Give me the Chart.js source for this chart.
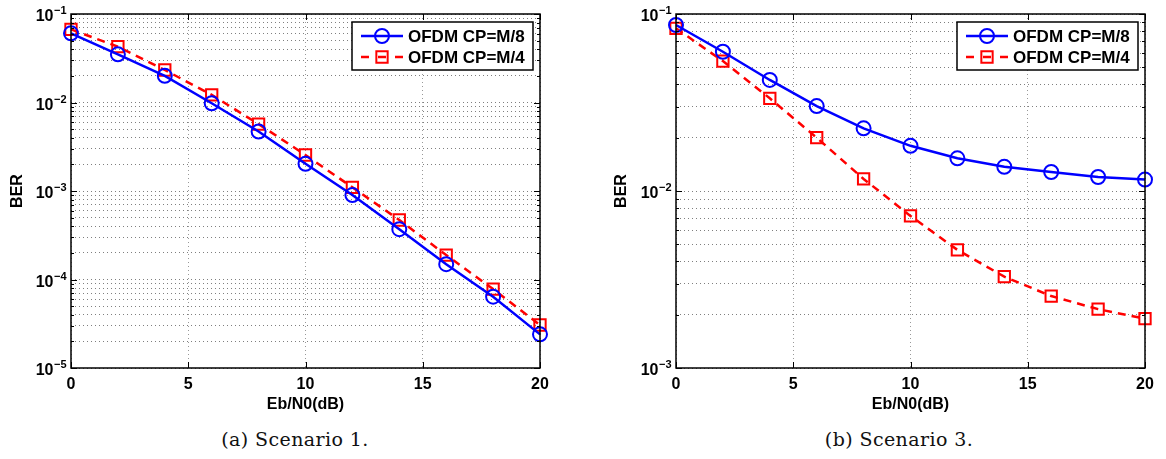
<!DOCTYPE html>
<html>
<head>
<meta charset="utf-8">
<script src="https://cdn.jsdelivr.net/npm/chart.js@4.4.1/dist/chart.umd.min.js"></script>
<style>
  html, body { margin: 0; padding: 0; background: #fff; }
  #wrap { position: relative; width: 1166px; height: 459px; }
  .box { position: absolute; top: 0; }
  .cap {
    position: absolute;
    top: 428px;
    font-family: "DejaVu Serif", serif;
    font-size: 19px;
    letter-spacing: 0.4px;
    color: #111;
    transform: translateX(-50%);
    white-space: nowrap;
  }
</style>
</head>
<body>
<div id="wrap">
  <div class="box" style="left:0"><canvas id="chartScen1" width="580" height="420"></canvas></div>
  <div class="box" style="left:600px"><canvas id="chartScen3" width="566" height="420"></canvas></div>
  <div class="cap" style="left:295px">(a) Scenario 1.</div>
  <div class="cap" style="left:899px">(b) Scenario 3.</div>
</div>
<script>
// data
const ebn0 = [0, 2, 4, 6, 8, 10, 12, 14, 16, 18, 20];
const xTicks = [0, 5, 10, 15, 20];
const legendLabels = ["OFDM CP=M/8", "OFDM CP=M/4"];

const scen1Cp8 = [0.0605, 0.035, 0.02, 0.0098, 0.0047, 0.00203, 0.0009, 0.00037, 0.000149, 0.000064, 0.000024];
const scen1Cp4 = [0.067, 0.0427, 0.0233, 0.0122, 0.0057, 0.00255, 0.0011, 0.00047, 0.000189, 0.000078, 0.0000306];
const scen3Cp8 = [0.0867, 0.0612, 0.0424, 0.0302, 0.0226, 0.018, 0.0153, 0.0137, 0.0128, 0.012, 0.0116];
const scen3Cp4 = [0.083, 0.0542, 0.0334, 0.02, 0.0117, 0.00723, 0.00465, 0.00328, 0.00255, 0.00215, 0.0019];

// y tick decades, and the minor multipliers inside each decade
const scen1Exps = [-5, -4, -3, -2, -1];
const scen3Exps = [-3, -2, -1];
const minorMult = [1, 2, 3, 4, 5, 6, 7, 8, 9];

const FONT = '"Liberation Sans", Arial, sans-serif';

function logTicks(exps) {
  const vals = [];
  for (let i = 0; i < exps.length - 1; i++) {
    minorMult.forEach((m) => vals.push(Number((m * Math.pow(10, exps[i])).toPrecision(6))));
  }
  vals.push(Math.pow(10, exps[exps.length - 1]));
  return vals;
}

function isDecade(v) {
  const l = Math.log10(v);
  return Math.abs(l - Math.round(l)) < 1e-9;
}

// box, inner ticks, 10^n labels and legend drawn matlab-style
const matlabAxes = {
  id: "matlabAxes",
  afterDraw(chart, args, opts) {
    const { ctx, chartArea: a, scales } = chart;
    const ys = scales.y;
    const xs = scales.x;
    ctx.save();

    ctx.strokeStyle = "#000";
    ctx.lineWidth = 1;
    ctx.beginPath();
    ys.ticks.forEach((t) => {
      const y = Math.round(ys.getPixelForValue(t.value)) + 0.5;
      const len = isDecade(t.value) ? 6 : 3;
      ctx.moveTo(a.left, y);
      ctx.lineTo(a.left + len, y);
      ctx.moveTo(a.right, y);
      ctx.lineTo(a.right - len, y);
    });
    xs.ticks.forEach((t) => {
      const x = Math.round(xs.getPixelForValue(t.value)) + 0.5;
      ctx.moveTo(x, a.bottom);
      ctx.lineTo(x, a.bottom - 6);
      ctx.moveTo(x, a.top);
      ctx.lineTo(x, a.top + 6);
    });
    ctx.stroke();

    ctx.lineWidth = 1.5;
    ctx.strokeRect(a.left, a.top, a.right - a.left, a.bottom - a.top);

    // y labels 10^n
    ctx.fillStyle = "#000";
    ctx.textBaseline = "alphabetic";
    ctx.textAlign = "left";
    opts.exps.forEach((e) => {
      const y = ys.getPixelForValue(Math.pow(10, e));
      const sup = "\u2212" + Math.abs(e);
      ctx.font = "bold 11px " + FONT;
      const wSup = ctx.measureText(sup).width;
      ctx.font = "bold 16px " + FONT;
      const wBase = ctx.measureText("10").width;
      const x0 = a.left - 5 - wSup - wBase;
      ctx.fillText("10", x0, y + 7);
      ctx.font = "bold 11px " + FONT;
      ctx.fillText(sup, x0 + wBase + 0.5, y);
    });

    // legend
    const bw = 181, bh = 48;
    const bx = a.right - 7 - bw;
    const by = a.top + 8;
    ctx.fillStyle = "#fff";
    ctx.fillRect(bx, by, bw, bh);
    ctx.strokeStyle = "#000";
    ctx.lineWidth = 1.5;
    ctx.strokeRect(bx, by, bw, bh);
    chart.data.datasets.forEach((ds, i) => {
      const ry = by + 14 + i * 21;
      ctx.strokeStyle = ds.borderColor;
      ctx.lineWidth = ds.borderWidth;
      ctx.setLineDash(ds.borderDash ? [8, 9] : []);
      ctx.beginPath();
      ctx.moveTo(bx + 9, ry);
      ctx.lineTo(bx + 51, ry);
      ctx.stroke();
      ctx.setLineDash([]);
      ctx.fillStyle = "rgba(0,0,0,0)";
      ctx.lineWidth = ds.pointBorderWidth;
      Chart.helpers.drawPoint(ctx, {
        pointStyle: ds.pointStyle,
        radius: ds.pointRadius,
        borderWidth: ds.pointBorderWidth,
        rotation: 0,
      }, bx + 30, ry);
      ctx.fillStyle = "#000";
      ctx.font = "bold 17px " + FONT;
      ctx.textBaseline = "middle";
      ctx.fillText(ds.label, bx + 56, ry + 1);
    });

    ctx.restore();
  },
};

function berChart(id, cp8, cp4, exps, yWidth, rightPad, titlePad) {
  const yTicks = logTicks(exps);
  return new Chart(document.getElementById(id).getContext("2d"), {
    type: "line",
    data: {
      datasets: [
        {
          label: legendLabels[0],
          data: ebn0.map((x, i) => ({ x: x, y: cp8[i] })),
          borderColor: "#0000ff",
          borderWidth: 2.5,
          pointStyle: "circle",
          pointRadius: 7,
          pointBorderWidth: 2,
          pointBackgroundColor: "rgba(0,0,0,0)",
          pointBorderColor: "#0000ff",
          tension: 0,
          clip: false,
        },
        {
          label: legendLabels[1],
          data: ebn0.map((x, i) => ({ x: x, y: cp4[i] })),
          borderColor: "#ff0000",
          borderWidth: 2.5,
          borderDash: [8, 6],
          pointStyle: "rect",
          pointRadius: 8,
          pointBorderWidth: 2,
          pointBackgroundColor: "rgba(0,0,0,0)",
          pointBorderColor: "#ff0000",
          tension: 0,
          clip: false,
        },
      ],
    },
    options: {
      responsive: false,
      animation: false,
      layout: { padding: { top: 14, right: rightPad, left: 0, bottom: 0 } },
      plugins: {
        legend: { display: false },
        tooltip: { enabled: false },
        matlabAxes: { exps: exps },
      },
      scales: {
        x: {
          type: "linear",
          min: 0,
          max: 20,
          afterBuildTicks: (s) => { s.ticks = xTicks.map((v) => ({ value: v })); },
          afterFit: (s) => { s.height = 52; },
          grid: { color: "rgba(0,0,0,0.4)", drawTicks: false, lineWidth: 1 },
          border: { display: false, dash: [1, 3] },
          ticks: {
            padding: 7,
            autoSkip: false,
            maxRotation: 0,
            color: "#000",
            font: { family: FONT, size: 16, weight: "bold" },
          },
          title: {
            display: true,
            text: "Eb/N0(dB)",
            color: "#000",
            padding: { top: 0, bottom: 6 },
            font: { family: FONT, size: 16, weight: "bold" },
          },
        },
        y: {
          type: "logarithmic",
          min: Math.pow(10, exps[0]),
          max: Math.pow(10, exps[exps.length - 1]),
          afterBuildTicks: (s) => { s.ticks = yTicks.map((v) => ({ value: v })); },
          afterFit: (s) => { s.width = yWidth; },
          grid: { color: "rgba(0,0,0,0.5)", drawTicks: false, lineWidth: 1 },
          border: { display: false, dash: [1, 3] },
          ticks: { display: false, autoSkip: false },
          title: {
            display: true,
            text: "BER",
            color: "#000",
            padding: { top: titlePad, bottom: 0 },
            font: { family: FONT, size: 16, weight: "bold" },
          },
        },
      },
    },
    plugins: [matlabAxes],
  });
}

const chartScen1 = berChart("chartScen1", scen1Cp8, scen1Cp4, scen1Exps, 71, 40, 8);
const chartScen3 = berChart("chartScen3", scen3Cp8, scen3Cp4, scen3Exps, 76, 21, 12);
</script>
</body>
</html>
